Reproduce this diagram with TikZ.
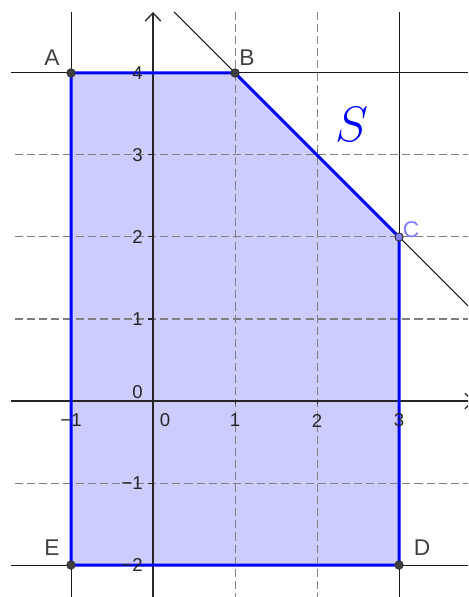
\documentclass[tikz,border=0pt]{standalone}
\usepackage{fontspec}
\setsansfont{Liberation Sans}
\usetikzlibrary{arrows.meta}
\definecolor{regionfill}{HTML}{CCCCFF}
\definecolor{pointgray}{HTML}{404040}
\definecolor{labelgray}{HTML}{444444}
\definecolor{lightpoint}{HTML}{8080FF}
\newcommand{\vertex}[3]{%
    \filldraw[fill=#3, draw=black!80, line width=0.35pt] (#1) circle (0.05);
    \node[ptlabel, text=#3] (lbl#1) at (#2) {#1};
}

\begin{document}
\begin{tikzpicture}[font=\sffamily,
    gridline/.style={gray, line width=0.35pt, dash pattern=on 2.8pt off 1.4pt},
    bound/.style={black!90, line width=0.35pt},
    axis/.style={black!85, line width=0.45pt, -{Straight Barb[length=0.1cm,width=0.19cm]}},
    ticklabel/.style={font=\sffamily\fontsize{6.45}{7}\selectfont, text=black!85, inner sep=0pt},
    ptlabel/.style={font=\sffamily\fontsize{7.9}{9}\selectfont, inner sep=0pt}]
    \useasboundingbox (-1.866,-2.390) rectangle (3.841,4.890);
    \clip (-1.866,-2.390) rectangle (3.841,4.890);
    \coordinate (A) at (-1,4);
    \coordinate (B) at (1,4);
    \coordinate (C) at (3,2);
    \coordinate (D) at (3,-2);
    \coordinate (E) at (-1,-2);
    % Fill the region
    \fill[regionfill] (A) -- (B) -- (C) -- (D) -- (E) -- cycle;
    % Draw dashed grid
    \foreach \x in {1,2} {
        \draw[gridline] (\x,4.744) -- (\x,-2.39);
    }
    \foreach \y in {-1,1,2,3} {
        \draw[gridline] (-1.683,\y) -- (3.841,\y);
    }
    % Boundary lines
    \draw[bound] (-1.732,4) -- (3.841,4);
    \draw[bound] (-1.732,-2) -- (3.841,-2);
    \draw[bound] (-1,4.744) -- (-1,-2.39);
    \draw[bound] (3,4.744) -- (3,-2.39);
    \draw[bound] (0.256,4.744) -- (3.841,1.159);
    % Axes
    \draw[axis] (-1.732,0) -- (3.915,0);
    \draw[axis] (0,-2.39) -- (0,4.744);
    \foreach \x in {-1,1,2,3} {
        \draw[black!85, line width=0.35pt] (\x,0) -- (\x,-0.04);
    }
    \foreach \y in {-2,-1,1,2,3,4} {
        \draw[black!85, line width=0.35pt] (0,\y) -- (-0.06,\y);
    }
    % Region border
    \draw[blue, line width=1.05pt, line join=round] (A) -- (B) -- (C) -- (D) -- (E) -- cycle;
    % Tick labels
    \foreach \x/\t in {-1/−1,1/1,2/2,3/3} {
        \node[ticklabel] (xl\x) at (\x,-0.238) {\t};
    }
    \node[ticklabel] (xl0) at (0.146,-0.238) {0};
    \foreach \y/\t in {-2/−2,-1/−1,1/1,2/2,3/3,4/4} {
        \node[ticklabel, anchor=east] (yl\y) at (-0.12,\y) {\t};
    }
    \node[ticklabel, anchor=east] (yl0) at (-0.12,0.11) {0};
    % Vertices
    \vertex{A}{-1.232,4.183}{pointgray}
    \vertex{B}{1.146,4.183}{pointgray}
    \vertex{C}{3.146,2.085}{lightpoint}
    \vertex{D}{3.28,-1.793}{pointgray}
    \vertex{E}{-1.232,-1.793}{pointgray}
    \node[text=blue, font=\fontsize{18.6}{20}\selectfont] (S) at (2.427,3.366) {$S$};
\end{tikzpicture}
\end{document}
